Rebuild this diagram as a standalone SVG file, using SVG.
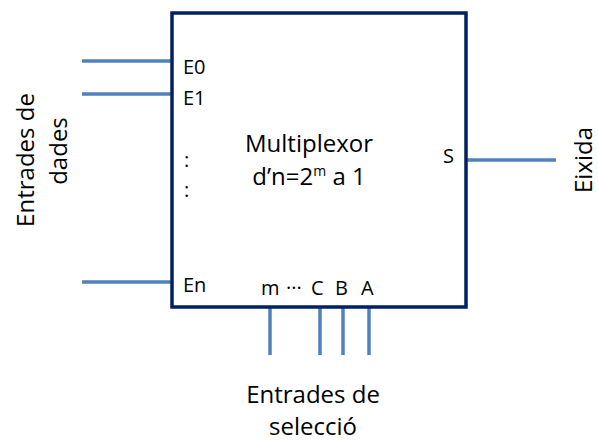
<svg xmlns="http://www.w3.org/2000/svg" width="598" height="441" viewBox="0 0 598 441">
<style>
.w{stroke:#4F81BD;stroke-width:3.5;fill:none}
.box{fill:#fff;stroke:#002060;stroke-width:3.5}
text{font-family:"Open Sans","Liberation Sans",sans-serif;fill:#000}
.p{font-size:20px}
.b{font-size:24px}
</style>
<g id="connectors">
<line class="w" x1="82" y1="61" x2="172" y2="61"/>
<line class="w" x1="82" y1="94" x2="172" y2="94"/>
<line class="w" x1="82" y1="282" x2="172" y2="282"/>
<line class="w" x1="466" y1="160" x2="556" y2="160"/>
<line class="w" x1="270" y1="307" x2="270" y2="355"/>
<line class="w" x1="320" y1="307" x2="320" y2="355"/>
<line class="w" x1="343" y1="307" x2="343" y2="355"/>
<line class="w" x1="369" y1="307" x2="369" y2="355"/>
</g>
<g id="mux">
<rect class="box" x="172" y="13" width="294" height="294"/>
<text class="p" x="183" y="74">E0</text>
<text class="p" x="183" y="105">E1</text>
<text class="p" x="184" y="167">:</text>
<text class="p" x="184" y="197">:</text>
<text class="p" x="183" y="292">En</text>
<text class="p" x="261" y="295">m</text>
<text class="p" x="286" y="295">···</text>
<text class="p" x="311" y="295">C</text>
<text class="p" x="335" y="295">B</text>
<text class="p" x="361" y="295">A</text>
<text class="p" x="443" y="163">S</text>
<text class="b" x="309" y="152" text-anchor="middle">Multiplexor</text>
<text class="b" x="309" y="185" text-anchor="middle">d’n=2<tspan font-size="14" dy="-9">m</tspan><tspan dy="9"> a 1</tspan></text>
</g>
<g id="label-dades">
<text class="b" transform="translate(34,160) rotate(-90)" text-anchor="middle">Entrades de</text>
<text class="b" transform="translate(67,151) rotate(-90)" text-anchor="middle">dades</text>
</g>
<g id="label-eixida">
<text class="b" transform="translate(592,160) rotate(-90)" text-anchor="middle">Eixida</text>
</g>
<g id="label-seleccio">
<text class="b" x="313" y="403" text-anchor="middle">Entrades de</text>
<text class="b" x="313" y="435" text-anchor="middle">selecció</text>
</g>
</svg>
